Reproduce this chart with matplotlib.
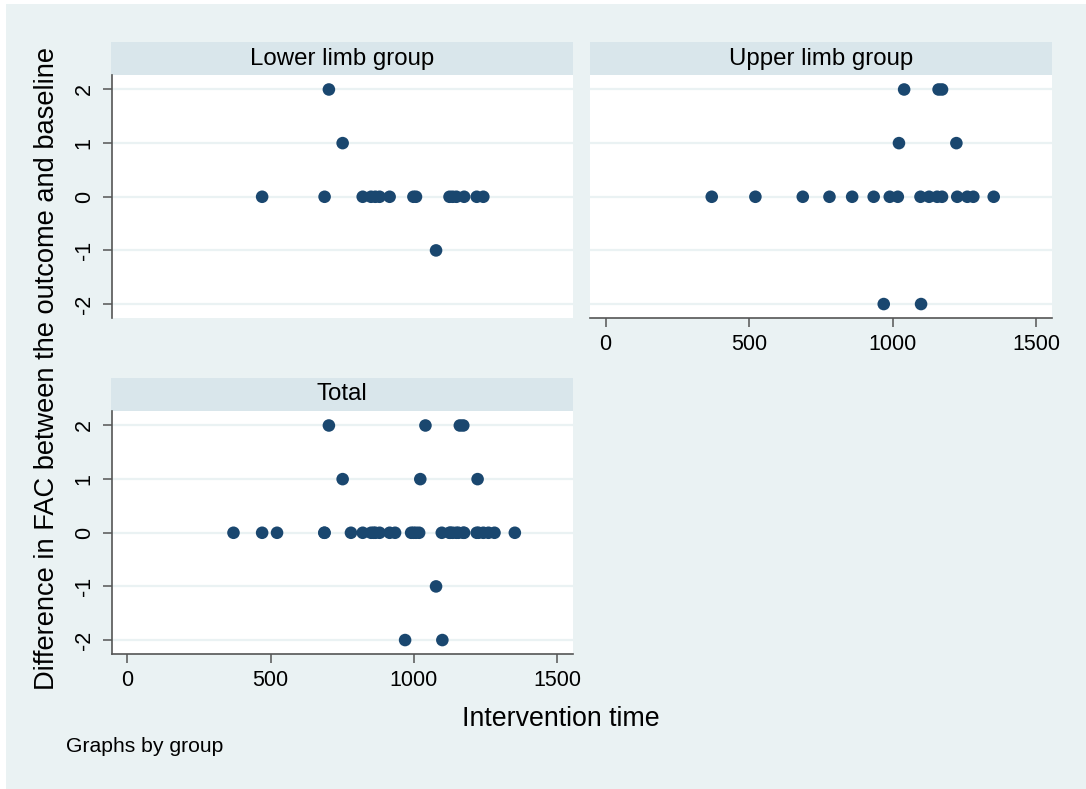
import matplotlib
matplotlib.use("Agg")
import matplotlib.pyplot as plt
from matplotlib.patches import Rectangle
import numpy as np

plt.rcParams['font.family'] = ['Liberation Sans', 'DejaVu Sans']
plt.rcParams['axes.unicode_minus'] = False

# ---- data ----
lower_time = [470, 688, 821, 850, 865, 880, 915, 998, 1007, 1124, 1135, 1148, 1175, 1219, 1242,
              703, 751, 1077]
lower_diff = [0, 0, 0, 0, 0, 0, 0, 0, 0, 0, 0, 0, 0, 0, 0,
              2, 1, -1]

upper_time = [1040, 1160, 1172, 1022, 1222,
              370, 522, 687, 780, 859, 934, 990, 1018, 1097, 1127, 1155, 1172, 1225, 1260, 1281, 1352,
              969, 1099]
upper_diff = [2, 2, 2, 1, 1,
              0, 0, 0, 0, 0, 0, 0, 0, 0, 0, 0, 0, 0, 0, 0, 0,
              -2, -2]

panel_titles = ["Lower limb group", "Upper limb group", "Total"]
x_ticks = [0, 500, 1000, 1500]
y_ticks = [-2, -1, 0, 1, 2]

total_time = lower_time + upper_time
total_diff = lower_diff + upper_diff

# ---- style ----
W, H = 1086, 789
BG = "#EAF2F3"
STRIP = "#D9E6EB"
GRID = "#EAF2F3"
MARK = "#1A476F"
AX = "#555555"
TICKFS = 15.5

fig = plt.figure(figsize=(W / 100, H / 100), dpi=100, facecolor="white")
fig.patches.append(Rectangle((6 / W, 0), 1, 1 - 4 / H, transform=fig.transFigure,
                             facecolor=BG, edgecolor="none", zorder=-10))


def fbox(l, t, r, b):
    return [l / W, 1 - b / H, (r - l) / W, (b - t) / H]


def strip(l, t, r, b, text):
    fig.patches.append(Rectangle((l / W, 1 - b / H), (r - l) / W, (b - t) / H,
                                 transform=fig.transFigure, facecolor=STRIP,
                                 edgecolor="none", zorder=-5))
    fig.text((l + r) / 2 / W, 1 - (t + b) / 2 / H, text, ha="center", va="center",
             fontsize=17.3, color="black")


def panel(rect, xs, ys, show_y, show_x):
    ax = fig.add_axes(rect)
    ax.set_facecolor("white")
    ax.set_xlim(-54, 1555)
    ax.set_ylim(-2.26, 2.27)
    ax.set_yticks(y_ticks)
    ax.set_xticks(x_ticks)
    for v in y_ticks:
        ax.axhline(v, color=GRID, lw=1.6, zorder=1)
    ax.scatter(xs, ys, s=82, color=MARK, edgecolors="none", zorder=3)
    for s in ax.spines.values():
        s.set_visible(False)
    if show_y:
        ax.spines['left'].set_visible(True)
        ax.spines['left'].set_color(AX)
        ax.spines['left'].set_linewidth(1.2)
        ax.tick_params(axis='y', length=6.5, width=1.1, color=AX, labelsize=TICKFS, pad=6)
        for lab in ax.get_yticklabels():
            lab.set_rotation(90)
            lab.set_va("center")
    else:
        ax.tick_params(axis='y', left=False, labelleft=False)
    if show_x:
        ax.spines['bottom'].set_visible(True)
        ax.spines['bottom'].set_color(AX)
        ax.spines['bottom'].set_linewidth(1.2)
        ax.tick_params(axis='x', length=6.5, width=1.1, color=AX, labelsize=TICKFS, pad=5)
    else:
        ax.tick_params(axis='x', bottom=False, labelbottom=False)
    return ax


# Lower limb
strip(111, 42, 573, 75, panel_titles[0])
panel(fbox(112, 75, 573, 318), lower_time, lower_diff, True, False)
# Upper limb
strip(590, 42, 1052, 75, panel_titles[1])
panel(fbox(590, 75, 1052, 318), upper_time, upper_diff, False, True)
# Total
strip(111, 378, 573, 411, panel_titles[2])
panel(fbox(112, 411, 573, 654), total_time, total_diff, True, True)

fig.text(561 / W, 1 - 719 / H, "Intervention time", ha="center", va="center", fontsize=19.3)
fig.text(47 / W, 1 - 369 / H, "Difference in FAC between the outcome and baseline",
         ha="center", va="center", rotation=90, fontsize=19.6)
fig.text(66 / W, 1 - 747 / H, "Graphs by group", ha="left", va="center", fontsize=15.2)

fig.savefig("out.png", dpi=100, facecolor=fig.get_facecolor())
